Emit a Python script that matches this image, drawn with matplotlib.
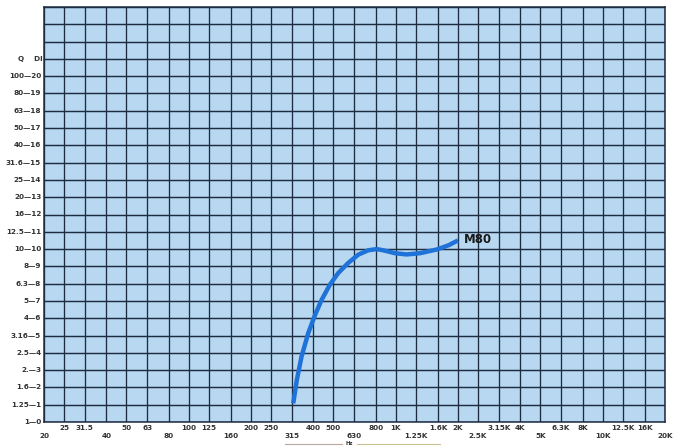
import matplotlib
matplotlib.use("Agg")
import matplotlib.pyplot as plt
import numpy as np

# Third-octave frequencies (grid + tick labels)
freqs = [20, 25, 31.5, 40, 50, 63, 80, 100, 125, 160, 200, 250, 315, 400, 500,
         630, 800, 1000, 1250, 1600, 2000, 2500, 3150, 4000, 5000, 6300, 8000,
         10000, 12500, 16000, 20000]
freq_labels = ["20", "25", "31.5", "40", "50", "63", "80", "100", "125", "160",
               "200", "250", "315", "400", "500", "630", "800", "1K", "1.25K",
               "1.6K", "2K", "2.5K", "3.15K", "4K", "5K", "6.3K", "8K", "10K",
               "12.5K", "16K", "20K"]

# Y labels: Q — DI
di_levels = list(range(0, 21))
q_labels = ["1", "1.25", "1.6", "2.", "2.5", "3.16", "4", "5", "6.3", "8", "10",
            "12.5", "16", "20", "25", "31.6", "40", "50", "63", "80", "100"]

# M80 directivity index curve
m80_freq = [320, 333, 351, 378, 408, 439, 481, 528, 590, 660, 737, 809, 871,
            993, 1130, 1310, 1584, 1800, 2000]
m80_di = [1.08, 2.43, 3.79, 5.14, 6.2, 7.07, 7.94, 8.62, 9.2, 9.68, 9.93, 10.0,
          9.93, 9.76, 9.69, 9.76, 9.98, 10.22, 10.5]

fig = plt.figure(figsize=(6.8, 4.46), dpi=100)
fig.patch.set_facecolor("white")
ax = fig.add_axes([44/680, 24/446, 621/680, 415/446])
ax.set_facecolor("#b8d8f2")
ax.set_xscale("log")
ax.set_xlim(20, 20000)
ax.set_ylim(0, 24)

grid_col = "#1d2c40"
for f in freqs:
    ax.axvline(f, color=grid_col, lw=0.95, zorder=1)
for d in range(0, 25):
    ax.axhline(d, color=grid_col, lw=1.05, zorder=1)
for s in ax.spines.values():
    s.set_color(grid_col)
    s.set_linewidth(1.1)

ax.set_xticks([])
ax.set_yticks([])
ax.minorticks_off()

ax.plot(m80_freq, m80_di, color="#1f72d8", lw=3.2, solid_capstyle="butt",
        solid_joinstyle="round", zorder=3)
ax.text(2130, 10.55, "M80", fontsize=8.5, fontweight="bold", color="#1a1a1a",
        va="center", ha="left", zorder=4)

lab_col = "#333333"
fs = 5.2
# Y labels
for d, q in zip(di_levels, q_labels):
    ax.annotate(f"{q}\u2014{d}", xy=(0, d), xycoords=("axes fraction", "data"),
                xytext=(-2, 0), textcoords="offset points", ha="right",
                va="center", fontsize=fs, fontweight="bold", color=lab_col)
ax.annotate("Q    DI", xy=(0, 21), xycoords=("axes fraction", "data"),
            xytext=(-1, 0), textcoords="offset points", ha="right",
            va="center", fontsize=fs, fontweight="bold", color=lab_col)

# X labels: staggered rows
for i, (f, lab) in enumerate(zip(freqs, freq_labels)):
    lower = (i % 3 == 0)
    off = -10 if lower else -4.5
    ax.annotate(lab, xy=(f, 0), xycoords=("data", "axes fraction"),
                xytext=(0, off), textcoords="offset points", ha="center",
                va="center", fontsize=fs, fontweight="bold", color=lab_col)

# Hz label with rules
yhz = 1 - 443.5/446
fig.text(349/680, yhz, "Hz", fontsize=3.8, fontweight="bold",
         color=lab_col, ha="center", va="center")
fig.add_artist(plt.Line2D([285/680, 342/680], [yhz]*2, color="#b8a8a0",
                          lw=0.8))
fig.add_artist(plt.Line2D([357/680, 440/680], [yhz]*2, color="#c8c090",
                          lw=0.8))

fig.savefig("out.png", dpi=100, facecolor="white")
